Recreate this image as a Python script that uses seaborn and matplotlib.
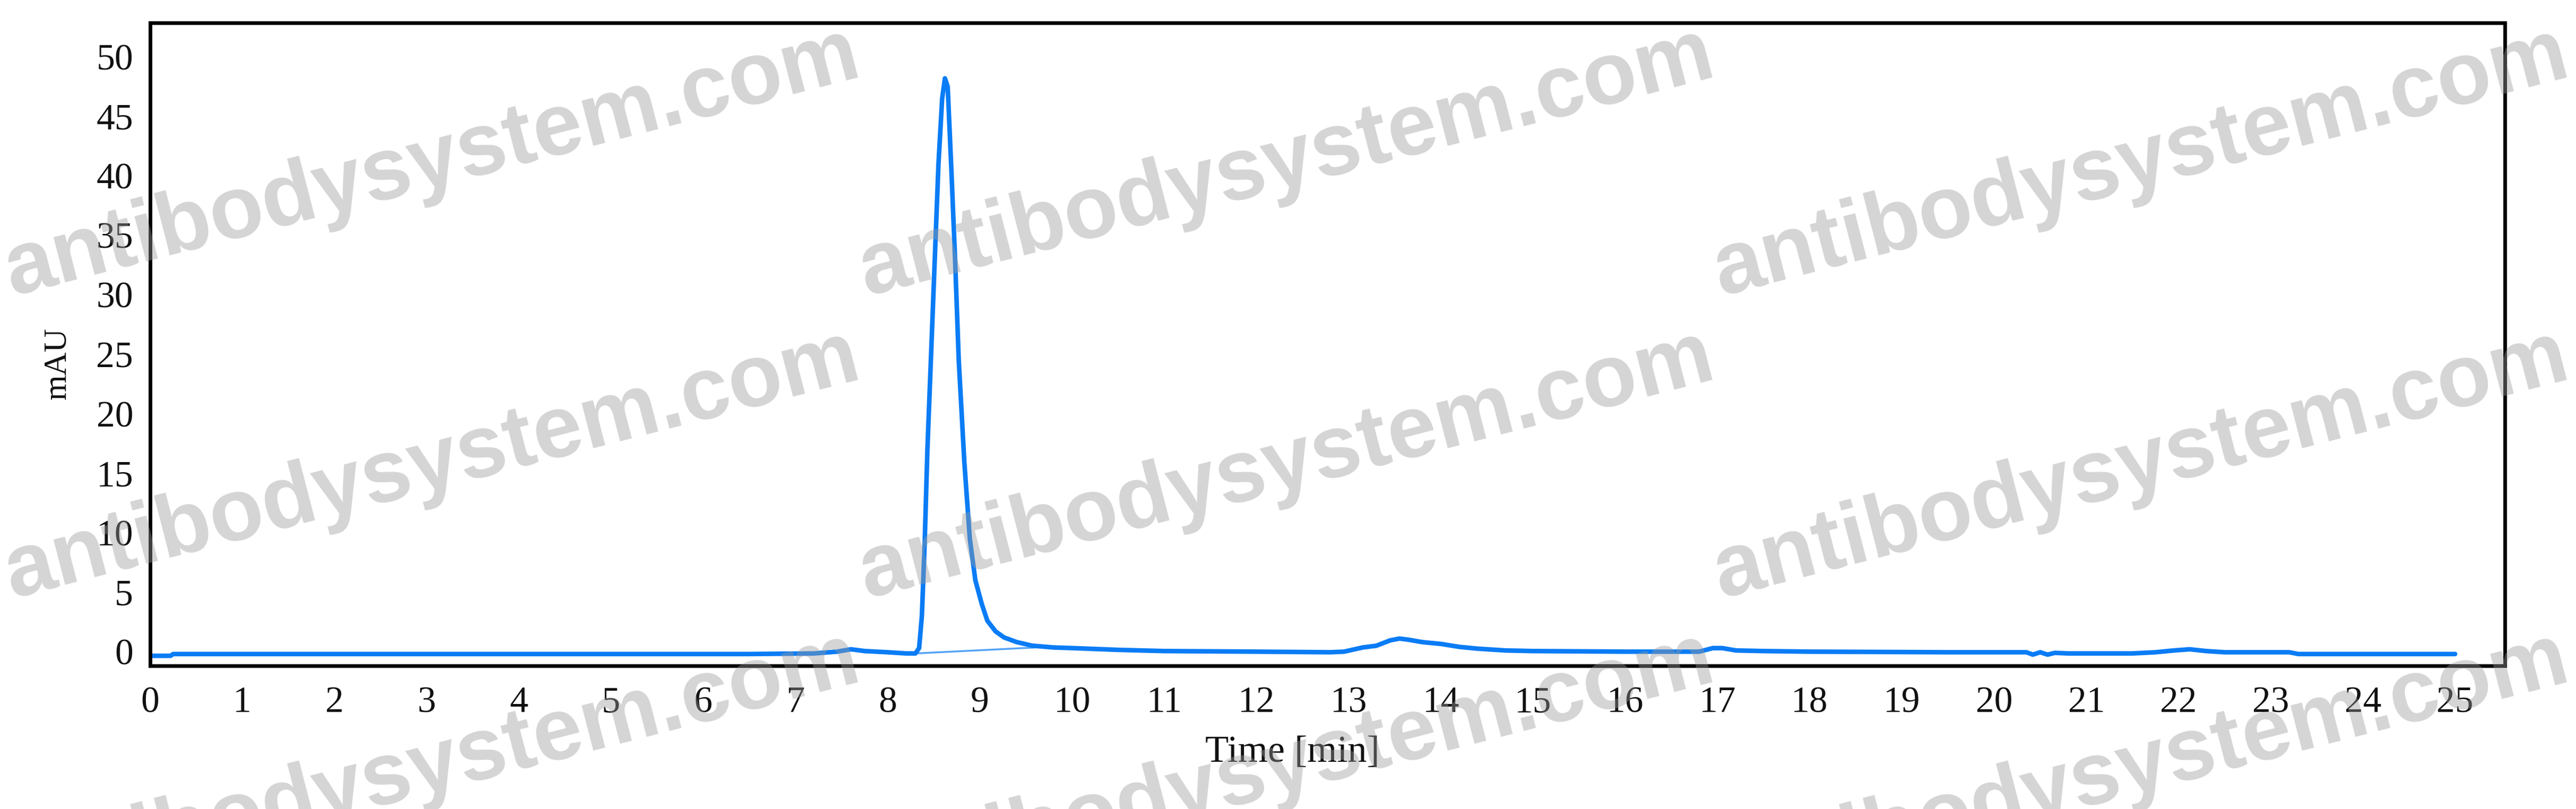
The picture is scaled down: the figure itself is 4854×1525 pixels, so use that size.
import numpy as np
import pandas as pd
import matplotlib.pyplot as plt
from matplotlib import font_manager
import seaborn as sns

# Chromatogram trace (time in min, signal in mAU)
time_min = [0.0, 0.22, 0.25, 1.0, 3.0, 5.0, 6.5, 7.2, 7.45, 7.6, 7.75, 8.0, 8.2, 8.3,
            8.34, 8.37, 8.40, 8.43, 8.47, 8.51, 8.55, 8.59, 8.62, 8.65, 8.69, 8.73,
            8.77, 8.83, 8.89, 8.95, 9.02, 9.08, 9.17, 9.26, 9.4, 9.57, 9.8, 10.0,
            10.5, 11.0, 12.0, 12.8, 12.95, 13.15, 13.3, 13.45, 13.55, 13.65, 13.8,
            14.0, 14.2, 14.4, 14.7, 15.0, 16.0, 16.8, 16.95, 17.05, 17.2, 17.5,
            18.0, 19.5, 20.35, 20.42, 20.5, 20.58, 20.66, 20.8, 21.5, 21.75, 21.95,
            22.12, 22.3, 22.5, 23.2, 23.3, 25.0]
signal_mau = [-0.35, -0.35, -0.2, -0.2, -0.2, -0.2, -0.2, -0.15, 0.0, 0.2, 0.05, -0.05,
              -0.15, -0.15, 0.3, 3.0, 9.0, 17.0, 25.0, 33.0, 41.0, 46.5, 48.2, 47.5,
              40.5, 33.0, 24.5, 16.0, 9.5, 6.0, 4.0, 2.6, 1.7, 1.2, 0.8, 0.5, 0.35,
              0.3, 0.15, 0.05, 0.0, -0.05, 0.0, 0.35, 0.5, 0.95, 1.1, 1.0, 0.8, 0.65,
              0.4, 0.25, 0.1, 0.05, 0.0, 0.0, 0.3, 0.3, 0.1, 0.05, 0.0, -0.05, -0.05,
              -0.25, -0.05, -0.25, -0.1, -0.15, -0.15, -0.05, 0.1, 0.2, 0.05, -0.05,
              -0.05, -0.2, -0.2]

# integration baseline under the main peak
base_time = [8.3, 9.6]
base_mau = [-0.15, 0.35]

x_ticks = list(range(0, 26))
y_ticks = list(range(0, 51, 5))
watermark = "antibodysystem.com"

df = pd.DataFrame({"Time": time_min, "mAU": signal_mau})
df_base = pd.DataFrame({"Time": base_time, "mAU": base_mau})

sns.set_theme(style="white")
plt.rcParams["font.family"] = ["Liberation Serif", "DejaVu Serif"]

fig = plt.figure(figsize=(48.54, 15.25), dpi=100)
ax = fig.add_axes([0.0583, 0.177, 0.9141, 0.795])

line_blue = "#0a7cf5"
sns.lineplot(data=df_base, x="Time", y="mAU", ax=ax, color=line_blue,
             linewidth=2.5, alpha=0.7, estimator=None)
sns.lineplot(data=df, x="Time", y="mAU", ax=ax, color=line_blue,
             linewidth=6.2, estimator=None, sort=False)

ax.set_xlim(0, 25.54)
ax.set_ylim(-1.19, 52.88)
ax.set_xticks(x_ticks)
ax.set_yticks(y_ticks)
ax.tick_params(axis="both", which="major", direction="out", length=19, width=3.5,
               color="#0b1a2a", labelsize=50, pad=9, labelcolor="#111111")
ax.tick_params(axis="y", pad=4)

for sp in ax.spines.values():
    sp.set_visible(True)
    sp.set_color("black")
    sp.set_linewidth(5)

ax.set_xlabel("Time [min]", fontsize=52, color="#111111")
ax.set_ylabel("mAU", fontsize=44, color="#111111")
ax.xaxis.set_label_coords(0.485, -0.108)
ax.yaxis.set_label_coords(-0.033, 0.47)

# watermark grid over the whole figure
try:
    font_manager.findfont(font_manager.FontProperties(family="Liberation Sans Narrow"),
                          fallback_to_default=False)
    wm_family, wm_size = "Liberation Sans Narrow", 145
except ValueError:
    wm_family, wm_size = "Liberation Sans", 120

fig_w, fig_h = 4854.0, 1525.0
col_x = [825, 2435, 4045]
row_y = [350, 920, 1490]
for ry in row_y:
    for cx in col_x:
        fig.text(cx / fig_w, 1 - ry / fig_h, watermark, family=wm_family,
                 fontsize=wm_size, weight="bold", color="#9a9a9a", alpha=0.42,
                 rotation=14.5, rotation_mode="anchor", ha="center", va="baseline",
                 zorder=10)

fig.savefig("out.png", dpi=100, facecolor="white")
